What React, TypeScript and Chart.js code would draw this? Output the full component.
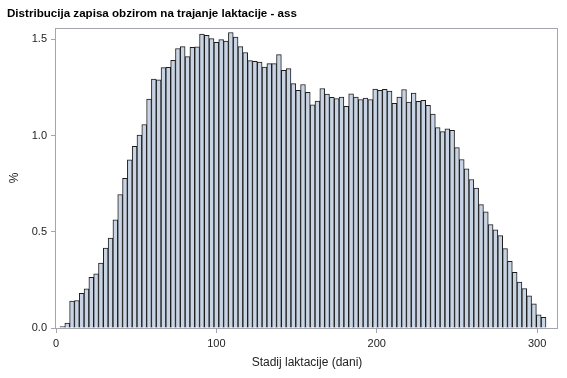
import { useEffect, useRef } from "react";
import { Chart, registerables } from "chart.js";

Chart.register(...registerables);

const TITLE = "Distribucija zapisa obzirom na trajanje laktacije - ass";
const X_TITLE = "Stadij laktacije (dani)";
const Y_TITLE = "%";

const binMidpoints = [
  4, 7, 10, 13, 16, 19, 22, 25, 28, 31,
  34, 37, 40, 43, 46, 49, 52, 55, 58, 61,
  64, 67, 70, 73, 76, 79, 82, 85, 88, 91,
  94, 97, 100, 103, 106, 109, 112, 115, 118, 121,
  124, 127, 130, 133, 136, 139, 142, 145, 148, 151,
  154, 157, 160, 163, 166, 169, 172, 175, 178, 181,
  184, 187, 190, 193, 196, 199, 202, 205, 208, 211,
  214, 217, 220, 223, 226, 229, 232, 235, 238, 241,
  244, 247, 250, 253, 256, 259, 262, 265, 268, 271,
  274, 277, 280, 283, 286, 289, 292, 295, 298, 301,
  304,
];

const percents = [
  0.008, 0.025, 0.14, 0.143, 0.18, 0.204, 0.263, 0.282, 0.338, 0.416,
  0.468, 0.562, 0.694, 0.778, 0.874, 0.945, 1.003, 1.058, 1.19, 1.294,
  1.29, 1.354, 1.355, 1.392, 1.453, 1.463, 1.411, 1.459, 1.462, 1.528,
  1.522, 1.504, 1.485, 1.499, 1.492, 1.536, 1.512, 1.463, 1.432, 1.39,
  1.386, 1.383, 1.356, 1.374, 1.374, 1.421, 1.339, 1.348, 1.27, 1.235,
  1.266, 1.225, 1.16, 1.18, 1.245, 1.216, 1.199, 1.193, 1.201, 1.152,
  1.218, 1.201, 1.188, 1.195, 1.188, 1.242, 1.235, 1.241, 1.232, 1.168,
  1.2, 1.24, 1.174, 1.221, 1.178, 1.183, 1.157, 1.112, 1.042, 1.021,
  1.036, 1.027, 0.938, 0.876, 0.828, 0.772, 0.728, 0.641, 0.604, 0.537,
  0.51, 0.48, 0.413, 0.347, 0.29, 0.239, 0.205, 0.167, 0.126, 0.069,
  0.056,
];

const xTicks = [0, 100, 200, 300];
const yTicks = [0, 0.5, 1.0, 1.5];

const FONT = "'Liberation Sans', Arial, Helvetica, sans-serif";
const FRAME = "#a3a7ad";

const framePlugin = {
  id: "frame",
  afterDatasetsDraw(chart: any) {
    const { ctx, chartArea } = chart;
    ctx.save();
    ctx.strokeStyle = FRAME;
    ctx.lineWidth = 1;
    const l = Math.round(chartArea.left) - 0.5;
    const t = Math.round(chartArea.top) + 0.5;
    const r = Math.round(chartArea.right) - 0.5;
    const b = Math.round(chartArea.bottom) + 0.5;
    ctx.strokeRect(l, t, r - l, b - t);
    ctx.restore();
  },
};

export default function App() {
  const ref = useRef<HTMLCanvasElement | null>(null);

  useEffect(() => {
    const canvas = ref.current;
    if (!canvas) return;
    const chart = new Chart(canvas, {
      type: "bar",
      data: {
        datasets: [
          {
            data: binMidpoints.map((x, i) => ({ x, y: percents[i] })),
            backgroundColor: "#c8d4e4",
            borderColor: "#1c1c1c",
            borderWidth: 1,
            barPercentage: 1,
            categoryPercentage: 1,
            borderSkipped: "start",
          } as any,
        ],
      },
      options: {
        responsive: false,
        animation: false,
        layout: { padding: { left: 7, right: 9, top: 0, bottom: 0 } },
        plugins: {
          legend: { display: false },
          tooltip: { enabled: false },
          title: {
            display: true,
            text: TITLE,
            align: "start",
            color: "#000",
            font: { family: FONT, size: 11.6, weight: "bold" },
            padding: { top: 6.5, bottom: 7.5 },
          },
        },
        scales: {
          x: {
            type: "linear",
            min: 0,
            max: 313,
            offset: false,
            afterBuildTicks: (s: any) => {
              s.ticks = xTicks.map((v) => ({ value: v }));
            },
            afterFit: (s: any) => {
              s.height = 50;
            },
            grid: { drawOnChartArea: false, tickLength: 5, color: FRAME, offset: false },
            border: { display: false },
            ticks: {
              font: { family: FONT, size: 11 },
              color: "#222",
              padding: 4,
              maxRotation: 0,
              autoSkip: false,
              callback: (v: any) => String(v),
            },
            title: {
              display: true,
              text: X_TITLE,
              color: "#222",
              font: { family: FONT, size: 12 },
              padding: { top: 0, bottom: 8 },
            },
          },
          y: {
            type: "linear",
            min: 0,
            max: 1.56,
            afterBuildTicks: (s: any) => {
              s.ticks = yTicks.map((v) => ({ value: v }));
            },
            afterFit: (s: any) => {
              s.width = 49;
            },
            grid: { drawOnChartArea: false, tickLength: 5, color: FRAME },
            border: { display: false },
            ticks: {
              font: { family: FONT, size: 11 },
              color: "#222",
              padding: 4,
              callback: (v: any) => Number(v).toFixed(1),
            },
            title: {
              display: true,
              text: Y_TITLE,
              color: "#222",
              font: { family: FONT, size: 12 },
              padding: { top: 0, bottom: 0 },
            },
          },
        },
      },
      plugins: [framePlugin],
    } as any);
    return () => chart.destroy();
  }, []);

  return (
    <div style={{ position: "absolute", left: 0, top: 0, width: 567, height: 378, background: "#fff" }}>
      <canvas ref={ref} width={567} height={378} style={{ display: "block" }} />
    </div>
  );
}
